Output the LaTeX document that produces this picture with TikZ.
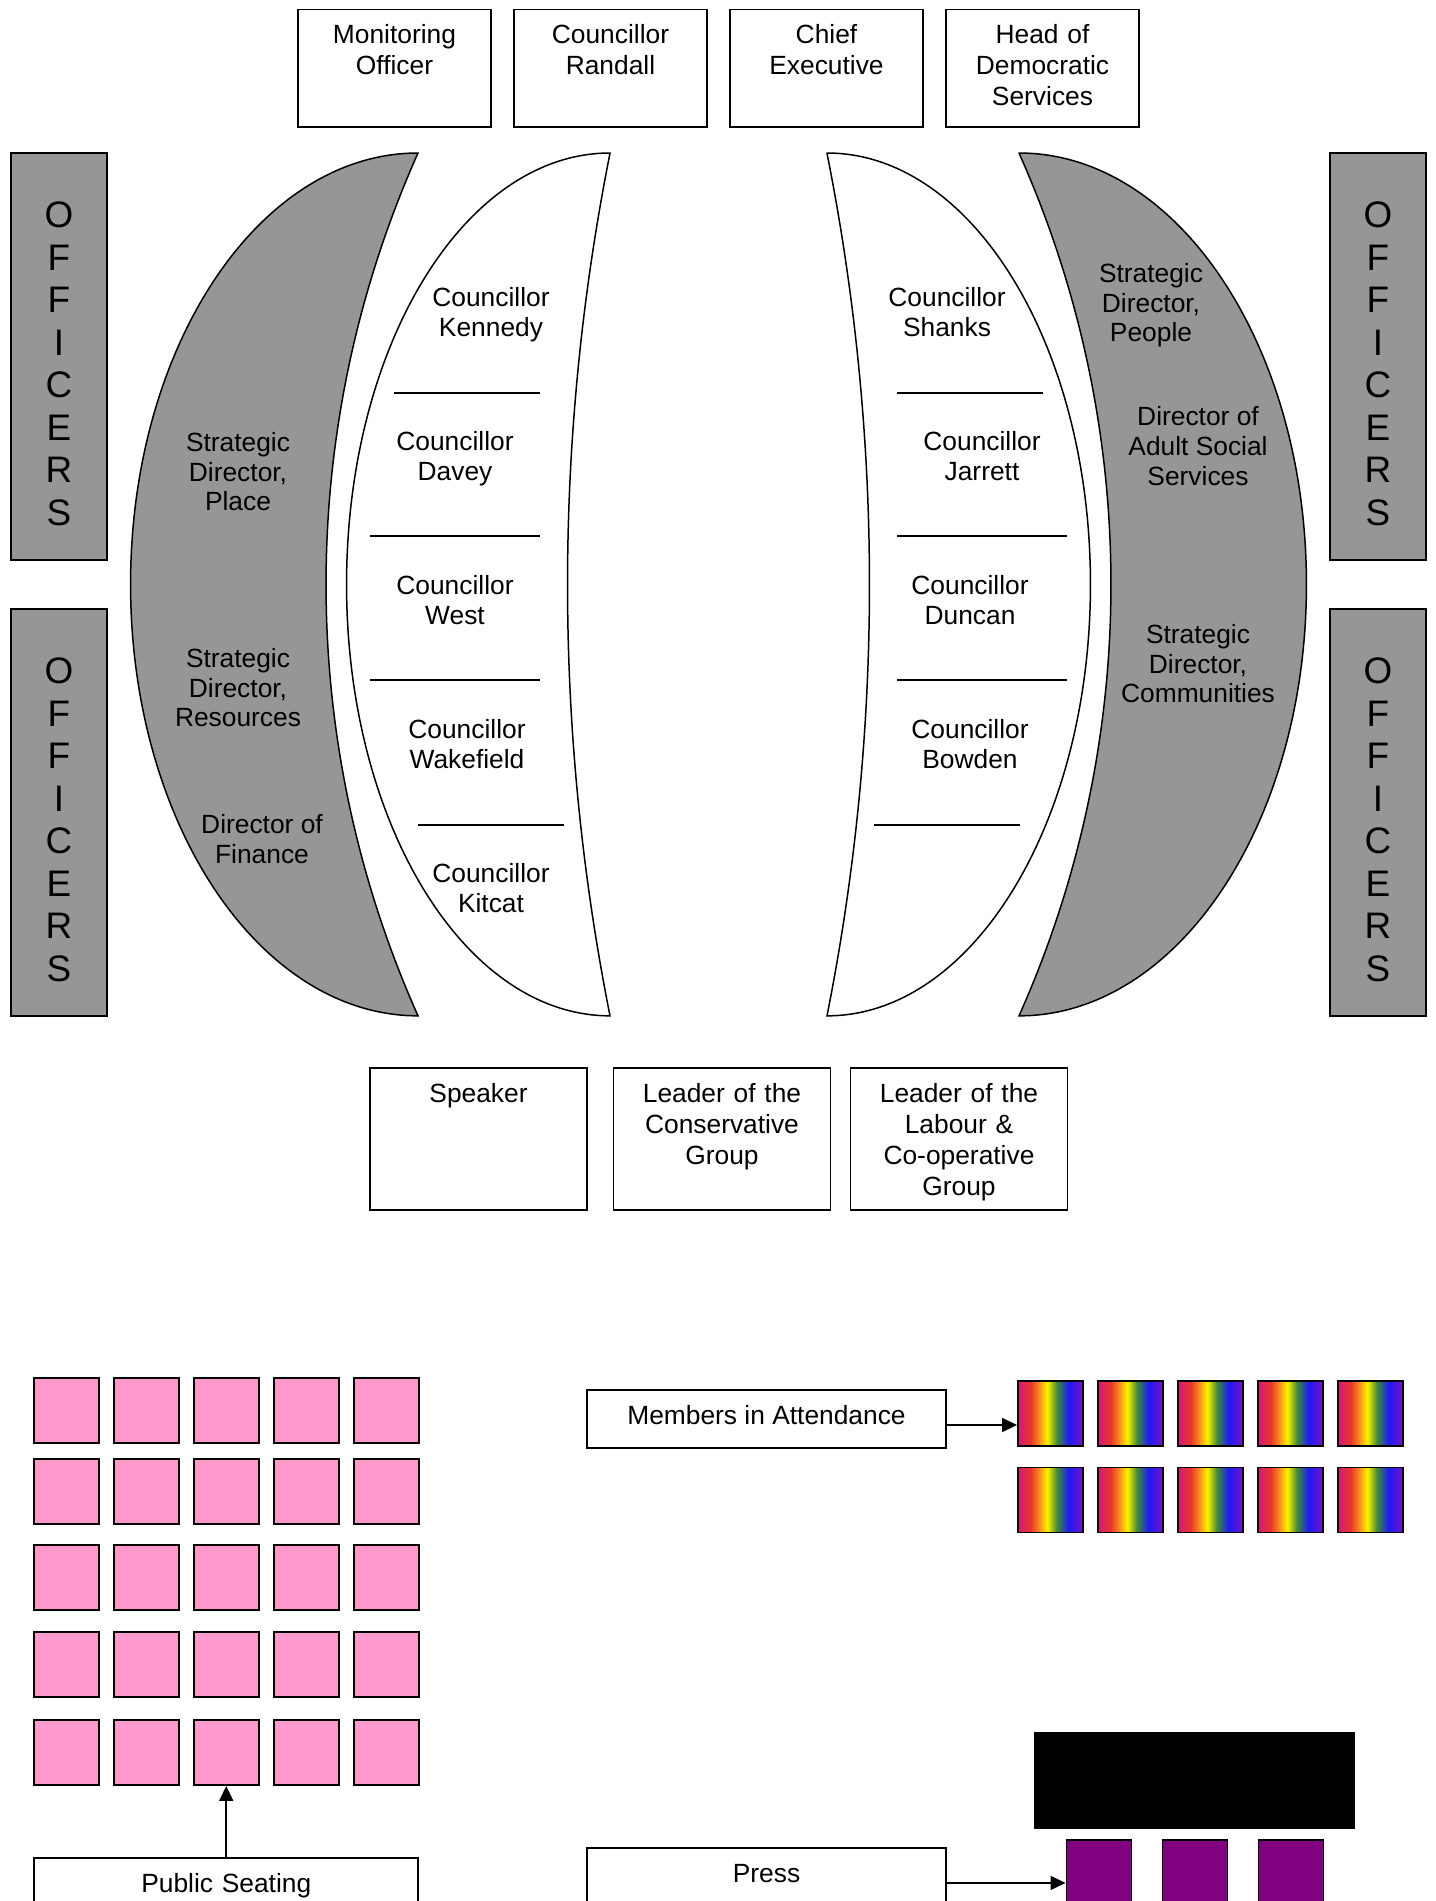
\documentclass[tikz,border=0pt]{standalone}
\usepackage{fontspec}
\setmainfont{Liberation Sans}
\usepackage{tikz}
\usetikzlibrary{arrows.meta}
\definecolor{HallGray}{RGB}{150,150,150}
\definecolor{SeatPink}{RGB}{255,153,204}
\definecolor{PressPurple}{RGB}{128,0,128}
\definecolor{rbA}{RGB}{214,21,127}
\definecolor{rbB}{RGB}{232,57,42}
\definecolor{rbC}{RGB}{247,144,30}
\definecolor{rbD}{RGB}{255,242,0}
\definecolor{rbE}{RGB}{61,139,55}
\definecolor{rbF}{RGB}{27,27,245}
\definecolor{rbG}{RGB}{123,18,192}
\pgfdeclarehorizontalshading{rainbow}{100bp}{color(0bp)=(rbA); color(25bp)=(rbA);
  color(35bp)=(rbB); color(41.5bp)=(rbC); color(47.5bp)=(rbD); color(55bp)=(rbE);
  color(64bp)=(rbF); color(75bp)=(rbG); color(100bp)=(rbG)}
\tikzset{
  lbl/.style={font=\fontsize{15}{17}\selectfont,align=center,inner sep=0pt,
    execute at begin node=\strut,execute at end node=\strut},
  topbox/.style={draw,line width=1.1pt,anchor=north,inner sep=0pt,align=center,
    text height=19.6pt,font=\fontsize{15}{17.6}\selectfont},
  officers/.style={draw,fill=HallGray,line width=1.1pt,minimum width=1.92cm,
    minimum height=8.14cm,inner sep=0pt,align=center,font=\fontsize{21}{24.2}\selectfont},
  moon/.style={draw=black,line width=0.85pt},
  divider/.style={draw=black,line width=1.1pt},
  seat/.style={draw,line width=1.1pt,minimum size=1.3cm,inner sep=0pt},
  link/.style={draw,line width=1pt,-{Triangle[length=0.3cm,width=0.28cm]}},
}
\newcommand{\officerword}{\rule{0pt}{23pt}O\\F\\F\\I\\C\\E\\R\\S}

\begin{document}
\begin{tikzpicture}[x=0.02cm,y=-0.02cm]
\useasboundingbox (0,0) rectangle (1436,1901);
\clip (0,0) rectangle (1436,1901);
% top table
\node[topbox,text width=3.86cm,text depth=47.3pt] (mo) at (394.5,8.5) {Monitoring\\Officer};
\node[topbox,text width=3.86cm,text depth=47.3pt] (randall) at (610.5,8.5) {Councillor\\Randall};
\node[topbox,text width=3.86cm,text depth=47.3pt] (ce) at (826.5,8.5) {Chief\\Executive};
\node[topbox,text width=3.86cm,text depth=47.3pt] (hds) at (1042.5,8.5) {Head of\\Democratic\\Services};
% officers
\node[officers] (offLU) at (59,356.5) {\officerword};
\node[officers] (offLD) at (59,812.5) {\officerword};
\node[officers] (offRU) at (1378,356.5) {\officerword};
\node[officers] (offRD) at (1378,812.5) {\officerword};
% benches
\coordinate (gl) at (418,153);
\coordinate (wl) at (610,153);
\coordinate (wr) at (827,153);
\coordinate (gr) at (1019,153);
\draw[moon,fill=HallGray] (gl) arc[start angle=90,end angle=270,x radius=5.75cm,y radius=8.63cm]
  arc[start angle=204.07,end angle=155.93,radius=21.16cm] -- cycle;
\draw[moon,fill=white] (wl) arc[start angle=90,end angle=270,x radius=5.27cm,y radius=8.63cm]
  arc[start angle=191.25,end angle=168.75,radius=44.23cm] -- cycle;
\draw[moon,fill=white] (wr) arc[start angle=90,end angle=-90,x radius=5.27cm,y radius=8.63cm]
  arc[start angle=-11.25,end angle=11.25,radius=44.23cm] -- cycle;
\draw[moon,fill=HallGray] (gr) arc[start angle=90,end angle=-90,x radius=5.75cm,y radius=8.63cm]
  arc[start angle=-24.07,end angle=24.07,radius=21.16cm] -- cycle;
\node[lbl] (place) at (238,476) {Strategic\\Director,\\Place};
\node[lbl] (resources) at (238,692) {Strategic\\Director,\\Resources};
\node[lbl] (finance) at (262,843) {Director of\\Finance};
\node[lbl] (people) at (1151,307) {Strategic\\Director,\\People};
\node[lbl] (adult) at (1198,450.5) {Director of\\Adult Social\\Services};
\node[lbl] (communities) at (1198,668) {Strategic\\Director,\\Communities};
\node[lbl] (kennedy) at (491,316) {Councillor\\Kennedy};
\node[lbl] (davey) at (455,460) {Councillor\\Davey};
\node[lbl] (west) at (455,604.5) {Councillor\\West};
\node[lbl] (wakefield) at (467,748) {Councillor\\Wakefield};
\node[lbl] (kitcat) at (491,892) {Councillor\\Kitcat};
\node[lbl] (shanks) at (947,316) {Councillor\\Shanks};
\node[lbl] (jarrett) at (982,460) {Councillor\\Jarrett};
\node[lbl] (duncan) at (970,604.5) {Councillor\\Duncan};
\node[lbl] (bowden) at (970,748) {Councillor\\Bowden};
\draw[divider] (394,393) -- (540,393);
\draw[divider] (370,536) -- (540,536);
\draw[divider] (370,680) -- (540,680);
\draw[divider] (418,825) -- (564,825);
\draw[divider] (897,393) -- (1043,393);
\draw[divider] (897,536) -- (1067,536);
\draw[divider] (897,680) -- (1067,680);
\draw[divider] (874,825) -- (1020,825);
% front table
\node[topbox,text width=4.34cm,text depth=61.2pt] (speaker) at (478.5,1067) {Speaker};
\node[topbox,text width=4.34cm,text depth=61.2pt] (con) at (722,1067) {Leader of the\\Conservative\\Group};
\node[topbox,text width=4.34cm,text depth=61.2pt] (lab) at (959,1067) {Leader of the\\Labour \&\\Co-operative\\Group};
% public seating
\foreach \r/\yy in {1/1410.5,2/1491.5,3/1577.5,4/1664.5,5/1752.5}
  \foreach \c in {1,...,5}
    \node[seat,fill=SeatPink] (pk\r\c) at ({66.5+80*(\c-1)},\yy) {};
\node[topbox,text width=7.69cm,text depth=20.2pt] (public) at (226.25,1857) {Public Seating};
\draw[link] (public.north) -- (public.north |- pk53.south);
% members in attendance
\foreach \r/\yy in {1/1413.5,2/1500}
  \foreach \c in {1,...,5}
    \node[seat,shading=rainbow] (rb\r\c) at ({1050.5+80*(\c-1)},\yy) {};
\node[lbl,draw,line width=1.1pt,minimum width=7.18cm,minimum height=1.16cm] (members) at (766.5,1419) {Members in Attendance};
\coordinate (ma) at ([yshift=-0.12cm]members.east);
\draw[link] (ma) -- (ma -| rb11.west);
% press
\node[draw,fill=black,minimum width=6.4cm,minimum height=1.92cm,inner sep=0pt] (screen) at (1194.6,1780) {};
\foreach \c in {1,2,3}
  \node[seat,fill=PressPurple] (pu\c) at ({1099+96*(\c-1)},1872.5) {};
\node[topbox,text width=7.18cm,text depth=20.2pt] (press) at (766.5,1847) {Press};
\draw[link] (press.east) -- (press.east -| pu1.west);
\end{tikzpicture}
\end{document}
